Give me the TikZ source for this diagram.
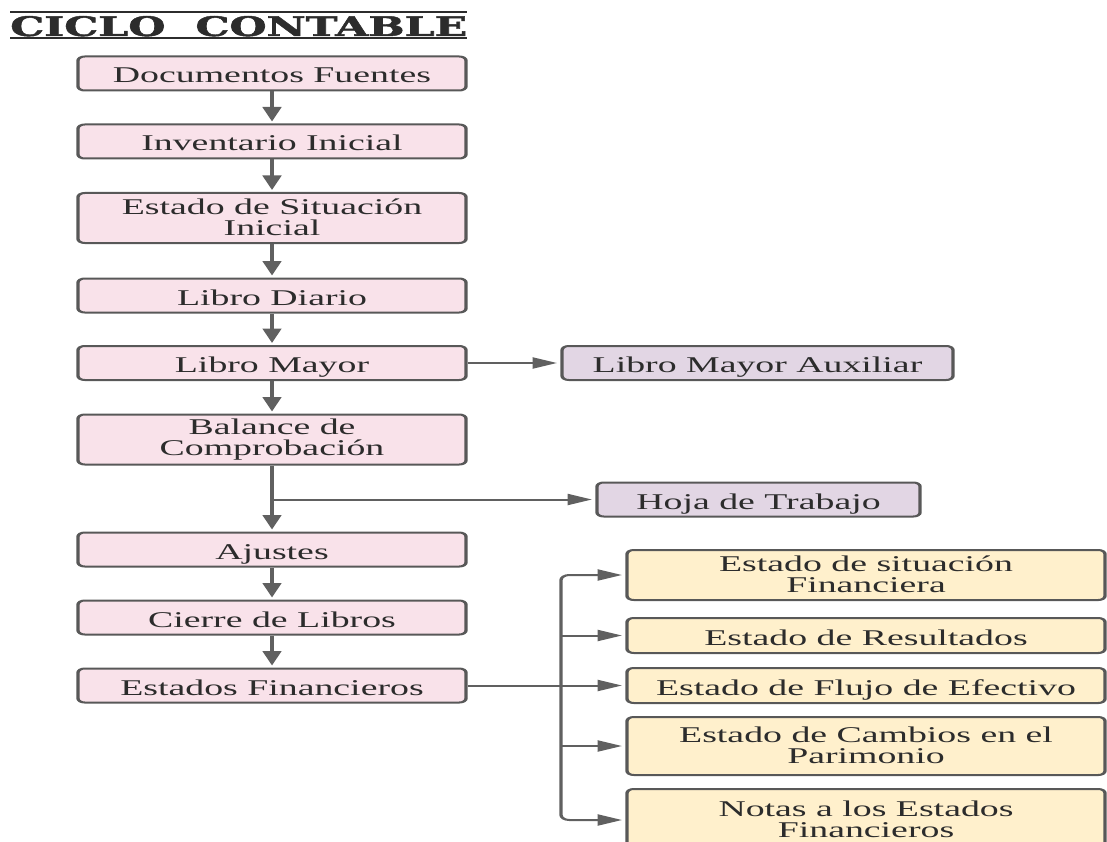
\documentclass[tikz,border=0pt]{standalone}
\usepackage{fontspec}
\setmainfont{Liberation Serif}
\newfontfamily\titlefont{DejaVu Serif}[BoldFeatures={FakeBold=1.6}]
\usetikzlibrary{arrows.meta}
\definecolor{pinkfill}{RGB}{249,226,234}
\definecolor{lilac}{RGB}{226,214,228}
\definecolor{cream}{RGB}{255,240,204}
\definecolor{edge}{RGB}{88,88,88}
\definecolor{ink}{RGB}{44,44,44}
\definecolor{wire}{RGB}{96,96,96}
% strut used to place the text inside the boxes
\def\strutht{29pt}
\def\strutdp{5pt}

\begin{document}
\begin{tikzpicture}[x=1pt, y=-1pt]
\useasboundingbox (0,0) rectangle (1107,842);
\clip (0,0) rectangle (1107,842);

% heading with rules above and below
\node[anchor=base west, inner sep=0pt, text=ink] (title) at (10,36)
  {\resizebox{457pt}{20pt}{\titlefont\bfseries CICLO\hspace{0.7em}CONTABLE}};
\draw[ink, line width=2pt] ([yshift=3.5pt]title.north west) -- ([yshift=3.5pt]title.north east);
\draw[ink, line width=2pt] ([yshift=-2.2pt]title.base west) -- ([yshift=-2.2pt]title.base east);

% the chart is drawn narrow and widened as a whole
\begin{scope}[transform canvas={xscale=1.68}, x=0.595238pt,
  box/.style={draw=edge, line width=2pt, rounded corners=4pt, text=ink,
    align=center, inner sep=2pt, font=\fontsize{22.5pt}{22pt}\selectfont,
    execute at begin node={\rule[-\strutdp]{0pt}{\strutht}},
    execute at end node={\rule[-\strutdp]{0pt}{0pt}}},
  twoline/.style={font=\fontsize{22.5pt}{21pt}\selectfont, inner ysep=0pt,
    /utils/exec={\def\strutdp{1pt}}},
  flowbox/.style={box, fill=pinkfill, minimum width=230.95pt, minimum height=34pt},
  sidebox/.style={box, fill=lilac, minimum height=34pt},
  outbox/.style={box, fill=cream, minimum width=284.5pt},
  conn/.style={draw=wire, line width=2pt, -{Triangle[length=14.5pt,width=11pt]}, shorten >=2pt}]

  % main sequence
  \node[flowbox] (b1) at (272,73.5) {Documentos Fuentes};
  \node[flowbox] (b2) at (272,141.5) {Inventario Inicial};
  \node[flowbox, twoline, minimum height=50pt] (b3) at (272,218) {Estado de Situación\\Inicial};
  \node[flowbox] (b4) at (272,295.5) {Libro Diario};
  \node[flowbox] (b5) at (272,363) {Libro Mayor};
  \node[flowbox, twoline, minimum height=50pt] (b6) at (272,439.5) {Balance de\\Comprobación};
  \node[flowbox] (b7) at (272,549.5) {Ajustes};
  \node[flowbox] (b8) at (272,617.5) {Cierre de Libros};
  \node[flowbox] (b9) at (272,685.5) {Estados Financieros};

  % side records
  \node[sidebox, minimum width=232.7pt] (aux) at (757.5,363) {Libro Mayor Auxiliar};
  \node[sidebox, minimum width=192.3pt] (hoja) at (758.5,499.5) {Hoja de Trabajo};

  % financial statements
  \node[outbox, twoline, minimum height=50pt] (e1) at (866,575) {Estado de situación\\Financiera};
  \node[outbox, minimum height=35pt] (e2) at (866,635.5) {Estado de Resultados};
  \node[outbox, minimum height=35pt] (e3) at (866,685.5) {Estado de Flujo de Efectivo};
  \node[outbox, twoline, minimum height=58pt] (e4) at (866,746) {Estado de Cambios en el\\Parimonio};
  \node[outbox, twoline, minimum height=62pt] (e5) at (866,820) {Notas a los Estados\\Financieros};

  % connectors
  \foreach \a/\b in {b1/b2,b2/b3,b3/b4,b4/b5,b5/b6,b6/b7,b7/b8,b8/b9}
    \draw[conn] (\a) -- (\b);
  \draw[conn] (b5) -- (aux);
  \coordinate (split) at (b6.south |- hoja.west);
  \draw[conn] (split) -- (hoja);
  \draw[conn] (b9) -- (e3);
  \coordinate (tk) at (561,685.5);
  \draw[conn, rounded corners=5pt] (tk) |- (e1.west);
  \draw[conn, rounded corners=5pt] (tk) |- (e5.west);
  \draw[conn] (tk |- e2.west) -- (e2);
  \draw[conn] (tk |- e4.west) -- (e4);
\end{scope}
\end{tikzpicture}
\end{document}
